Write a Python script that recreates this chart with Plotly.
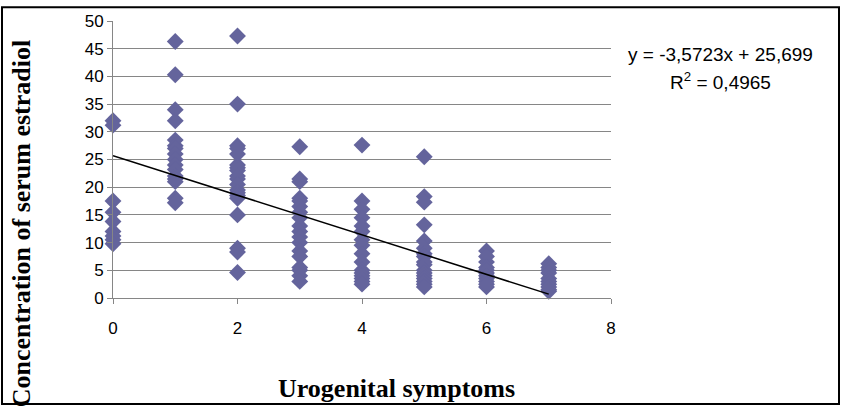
import plotly.graph_objects as go

# Data
symptoms_0 = [32.0, 31.2, 17.5, 15.5, 13.8, 12.0, 11.2, 10.5, 9.8]
symptoms_1 = [46.3, 40.3, 34.0, 32.0, 28.5, 27.5, 27.0, 26.0, 25.0, 24.0, 23.2, 22.0, 21.5, 21.0, 18.0, 17.2]
symptoms_2 = [47.3, 35.0, 27.5, 27.0, 26.0, 24.0, 23.5, 23.0, 22.0, 21.5, 20.5, 19.5, 19.0, 18.5, 18.0, 15.0, 9.0, 8.3, 4.6]
symptoms_3 = [27.3, 21.5, 21.0, 18.0, 17.5, 16.5, 15.5, 14.5, 13.0, 12.0, 11.0, 10.0, 8.5, 7.5, 5.5, 5.0, 4.0, 3.0]
symptoms_4 = [27.6, 17.5, 16.0, 14.5, 13.0, 12.0, 10.5, 9.5, 8.0, 6.5, 5.0, 4.5, 4.0, 3.5, 3.0, 2.5]
symptoms_5 = [25.5, 18.3, 17.3, 13.2, 10.3, 9.0, 8.0, 7.5, 6.5, 6.0, 5.0, 4.5, 4.0, 3.5, 3.0, 2.5, 2.0]
symptoms_6 = [8.5, 7.5, 6.5, 5.5, 5.0, 4.5, 4.0, 3.5, 3.0, 2.5, 2.0]
symptoms_7 = [6.2, 5.5, 5.0, 4.5, 3.5, 3.0, 2.5, 2.0, 1.5, 1.2]

groups = [symptoms_0, symptoms_1, symptoms_2, symptoms_3,
          symptoms_4, symptoms_5, symptoms_6, symptoms_7]

slope = -3.5723
intercept = 25.699
r_squared = 0.4965
trend_x = [0, 7]

x_vals, y_vals = [], []
for k, g in enumerate(groups):
    x_vals += [k] * len(g)
    y_vals += g

fig = go.Figure()
fig.add_trace(go.Scatter(
    x=x_vals, y=y_vals, mode="markers", cliponaxis=False,
    marker=dict(symbol="diamond", size=13, color="#64649C"),
    showlegend=False, hoverinfo="skip"))
fig.add_trace(go.Scatter(
    x=trend_x, y=[slope * x + intercept for x in trend_x], mode="lines",
    line=dict(color="black", width=1.5), showlegend=False, hoverinfo="skip"))

axis_font = dict(family="Liberation Sans, Arial", size=17, color="black")
fig.update_layout(
    width=841, height=408,
    margin=dict(l=113, r=230, t=16, b=110),
    paper_bgcolor="white", plot_bgcolor="white",
    xaxis=dict(range=[0, 8], tickvals=[0, 2, 4, 6, 8], showgrid=False,
               showline=True, linecolor="#868686", linewidth=1,
               ticks="outside", ticklen=5, tickcolor="#868686",
               tickfont=axis_font, zeroline=False, ticklabelstandoff=10),
    yaxis=dict(range=[0, 50], dtick=5, showgrid=True, gridcolor="#868686",
               gridwidth=1, showline=True, linecolor="#868686", linewidth=1,
               ticks="outside", ticklen=5, tickcolor="#868686",
               tickfont=axis_font, zeroline=False),
    font=dict(family="Liberation Sans, Arial"),
)

fmt = lambda v, d: f"{v:.{d}f}".replace(".", ",")
eq_text = f"y = {fmt(slope, 4)}x + {fmt(intercept, 3)}"
r2_text = f"R<sup>2</sup> = {fmt(r_squared, 4)}"

def px_x(p):
    return (p - 113) / 498

def px_y(p):
    return (298 - p) / 282

fig.add_annotation(x=px_x(720), y=px_y(50), xref="paper", yref="paper",
                   text=eq_text, showarrow=False, xanchor="center", yanchor="middle",
                   font=dict(family="Liberation Sans, Arial", size=19, color="black"))
fig.add_annotation(x=px_x(720), y=px_y(77), xref="paper", yref="paper",
                   text=r2_text, showarrow=False, xanchor="center", yanchor="middle",
                   font=dict(family="Liberation Sans, Arial", size=19, color="black"))
fig.add_annotation(x=px_x(21), y=px_y(222), xref="paper", yref="paper",
                   text="<b>Concentration of serum estradiol</b>", textangle=-90,
                   showarrow=False, xanchor="center", yanchor="middle",
                   font=dict(family="Liberation Serif, Times New Roman", size=26, color="black"))
fig.add_annotation(x=px_x(396), y=px_y(390), xref="paper", yref="paper",
                   text="<b>Urogenital symptoms</b>",
                   showarrow=False, xanchor="center", yanchor="middle",
                   font=dict(family="Liberation Serif, Times New Roman", size=26, color="black"))
fig.add_shape(type="rect", xref="paper", yref="paper",
              x0=px_x(2), x1=px_x(839), y0=px_y(406), y1=px_y(2),
              line=dict(color="black", width=2), fillcolor="rgba(0,0,0,0)")

fig.write_html("out.html")
